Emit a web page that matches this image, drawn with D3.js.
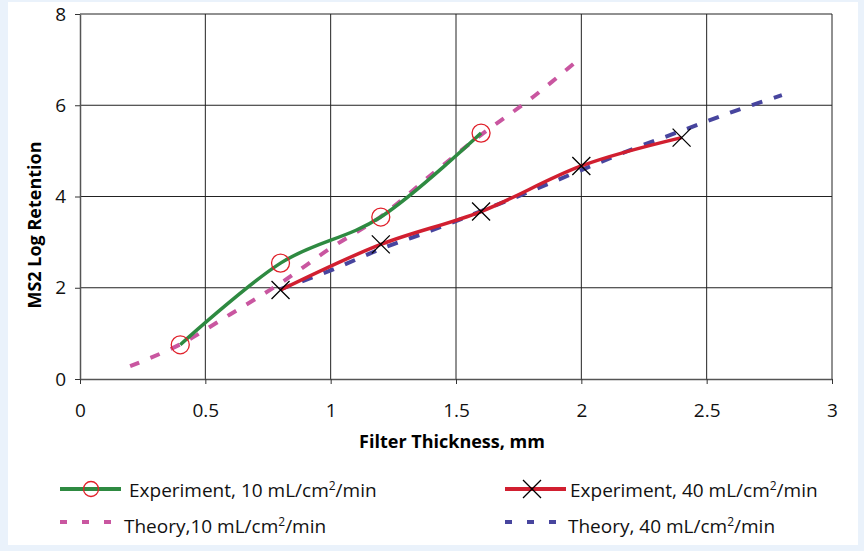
<!DOCTYPE html>
<html>
<head>
<meta charset="utf-8">
<script src="https://cdn.jsdelivr.net/npm/d3@7"></script>
<style>
  body { margin: 0; background: #eaf2fb; }
  svg { display: block; font-family: "Open Sans", sans-serif; }
</style>
</head>
<body>
<svg id="chart" width="864" height="551"></svg>
<script>
// data
var thicknessExp10 = [0.4, 0.8, 1.2, 1.6];
var retentionExp10 = [0.75, 2.54, 3.55, 5.39];

var thicknessExp40 = [0.8, 1.2, 1.6, 2.0, 2.4];
var retentionExp40 = [1.95, 2.95, 3.67, 4.67, 5.29];

var thicknessTheory10 = [0.2, 0.4, 0.6, 0.8, 1.0, 1.2, 1.4, 1.6, 1.8, 2.0];
var retentionTheory10 = [0.28, 0.76, 1.42, 2.1, 2.87, 3.56, 4.47, 5.35, 6.15, 7.05];

var thicknessTheory40 = [0.8, 1.0, 1.2, 1.4, 1.6, 1.8, 2.0, 2.2, 2.4, 2.6, 2.8];
var retentionTheory40 = [1.97, 2.38, 2.85, 3.25, 3.68, 4.12, 4.58, 5.03, 5.44, 5.85, 6.22];

var xTicks = [0, 0.5, 1, 1.5, 2, 2.5, 3];
var yTicks = [0, 2, 4, 6, 8];

var legendLabels = [
  ['Experiment, 10 mL/cm', '/min'],
  ['Experiment, 40 mL/cm', '/min'],
  ['Theory,10 mL/cm', '/min'],
  ['Theory, 40 mL/cm', '/min']
];

var svg = d3.select('#chart');

svg.append('rect').attr('width', 864).attr('height', 551).attr('fill', '#eaf2fb');
svg.append('rect').attr('x', 8).attr('y', 2).attr('width', 850).attr('height', 543).attr('fill', '#fff');

var x = d3.scaleLinear().domain([0, 3]).range([80, 832]);
var y = d3.scaleLinear().domain([0, 8]).range([379, 14]);

// grid
var grid = svg.append('g');
grid.selectAll('line.v')
  .data(xTicks.slice(1))
  .enter().append('line')
  .attr('x1', d => x(d)).attr('x2', d => x(d))
  .attr('y1', y(0)).attr('y2', y(8))
  .attr('stroke', '#222').attr('stroke-width', 1);
grid.selectAll('line.h')
  .data(yTicks.slice(1))
  .enter().append('line')
  .attr('x1', x(0)).attr('x2', x(3))
  .attr('y1', d => y(d)).attr('y2', d => y(d))
  .attr('stroke', '#222').attr('stroke-width', 1);

// axes
var xAxis = svg.append('g')
  .attr('transform', 'translate(0,' + y(0) + ')')
  .call(d3.axisBottom(x).tickValues(xTicks).tickSize(5).tickSizeOuter(0).tickPadding(20).tickFormat(d3.format('')));
var yAxis = svg.append('g')
  .attr('transform', 'translate(' + x(0) + ',0)')
  .call(d3.axisLeft(y).tickValues(yTicks).tickSize(5).tickSizeOuter(0).tickPadding(9));

[xAxis, yAxis].forEach(function (a) {
  a.select('.domain').attr('stroke', '#555').attr('stroke-width', 1.5);
  a.selectAll('.tick line').attr('stroke', '#333');
  a.selectAll('.tick text').attr('font-size', 19).attr('font-family', '"Open Sans", sans-serif').attr('fill', '#111');
});

svg.append('text')
  .attr('x', 452).attr('y', 448)
  .attr('text-anchor', 'middle')
  .attr('font-size', 18).attr('font-weight', 'bold').attr('fill', '#000')
  .text('Filter Thickness, mm');

svg.append('text')
  .attr('transform', 'translate(41,225) rotate(-90)')
  .attr('text-anchor', 'middle')
  .attr('font-size', 18).attr('font-weight', 'bold').attr('fill', '#000')
  .text('MS2 Log Retention');

// lines
var line = d3.line()
  .x(d => x(d[0]))
  .y(d => y(d[1]))
  .curve(d3.curveCardinal.tension(0));

var exp10 = d3.zip(thicknessExp10, retentionExp10);
var exp40 = d3.zip(thicknessExp40, retentionExp40);
var theory10 = d3.zip(thicknessTheory10, retentionTheory10);
var theory40 = d3.zip(thicknessTheory40, retentionTheory40);

var green = '#2e8a41', red = '#d11f30', pink = '#c956a0', blue = '#47459e';

svg.append('path').datum(theory40)
  .attr('d', line).attr('fill', 'none')
  .attr('stroke', blue).attr('stroke-width', 4).attr('stroke-dasharray', '11,12');
svg.append('path').datum(exp40)
  .attr('d', line).attr('fill', 'none')
  .attr('stroke', red).attr('stroke-width', 3.5);
svg.append('path').datum(theory10)
  .attr('d', line).attr('fill', 'none')
  .attr('stroke', pink).attr('stroke-width', 4).attr('stroke-dasharray', '10,12');
svg.append('path').datum(exp10)
  .attr('d', line).attr('fill', 'none')
  .attr('stroke', green).attr('stroke-width', 3.5);

// markers
svg.selectAll('circle.m')
  .data(exp10)
  .enter().append('circle')
  .attr('cx', d => x(d[0])).attr('cy', d => y(d[1]))
  .attr('r', 9).attr('fill', 'none')
  .attr('stroke', '#e0202a').attr('stroke-width', 1.3);

function cross(g, cx, cy, s) {
  g.append('path')
    .attr('d', 'M' + (cx - s) + ',' + (cy - s) + 'L' + (cx + s) + ',' + (cy + s) +
      'M' + (cx - s) + ',' + (cy + s) + 'L' + (cx + s) + ',' + (cy - s))
    .attr('stroke', '#000').attr('stroke-width', 1.3).attr('fill', 'none');
}
exp40.forEach(function (d) {
  cross(svg, x(d[0]), y(d[1]), 9);
});

// legend
var legend = svg.append('g');
var items = [
  { lx: 60, ly: 489, tx: 129, ty: 497, color: green, dash: null, mark: 'circle' },
  { lx: 505, ly: 489, tx: 570, ty: 497, color: red, dash: null, mark: 'cross' },
  { lx: 60, ly: 522, tx: 124, ty: 533, color: pink, dash: '7,15', mark: null },
  { lx: 505, ly: 522, tx: 568, ty: 533, color: blue, dash: '7,15', mark: null }
];

items.forEach(function (it, i) {
  var l = legend.append('line')
    .attr('x1', it.lx).attr('x2', it.lx + (it.dash ? 52 : 61))
    .attr('y1', it.ly).attr('y2', it.ly)
    .attr('stroke', it.color).attr('stroke-width', 4);
  if (it.dash) l.attr('stroke-dasharray', it.dash);
  if (it.mark === 'circle') {
    legend.append('circle').attr('cx', it.lx + 31).attr('cy', it.ly).attr('r', 7.5)
      .attr('fill', 'none').attr('stroke', '#e0202a').attr('stroke-width', 1.3);
  } else if (it.mark === 'cross') {
    cross(legend, it.lx + 27, it.ly, 9);
  }
  var t = legend.append('text')
    .attr('x', it.tx).attr('y', it.ty)
    .attr('font-size', 19).attr('fill', '#111');
  t.append('tspan').text(legendLabels[i][0]);
  t.append('tspan').attr('dy', -7).attr('font-size', 12).text('2');
  t.append('tspan').attr('dy', 7).text(legendLabels[i][1]);
});
</script>
</body>
</html>
